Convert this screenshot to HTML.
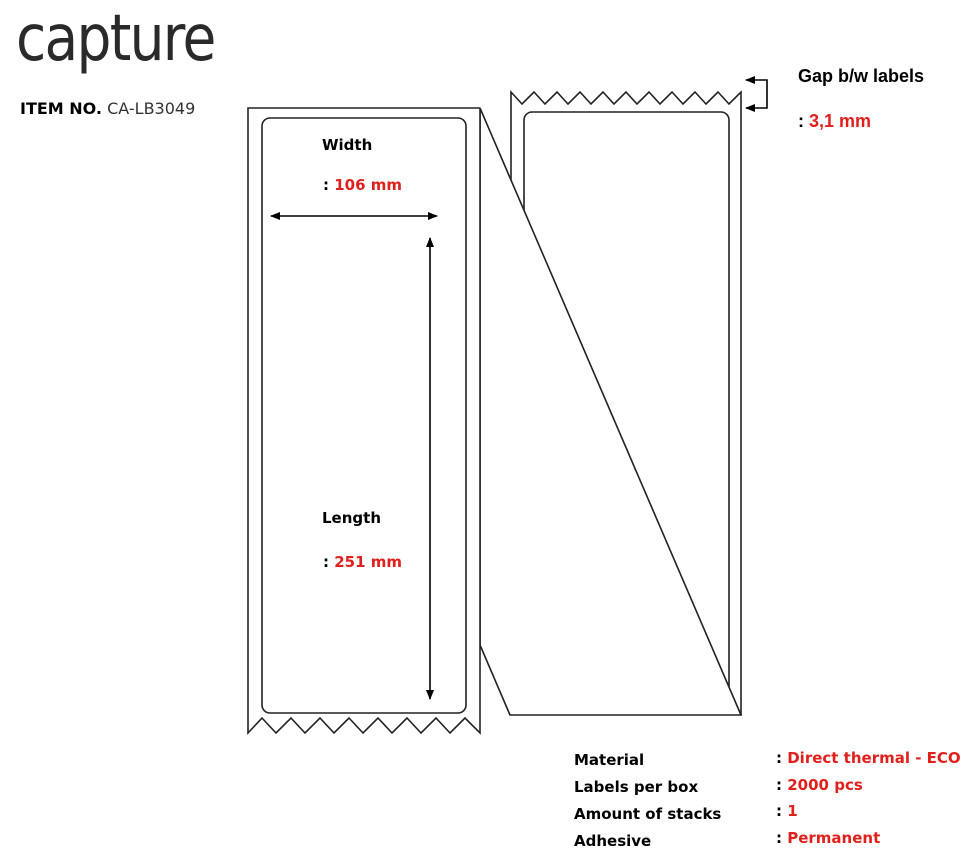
<!DOCTYPE html>
<html><head><style>
body{margin:0;background:#fff;width:969px;height:866px;overflow:hidden;position:relative;font-family:"DejaVu Sans","Liberation Sans",sans-serif}
.t{position:absolute;white-space:nowrap}
.r{color:#e0201c}
</style></head><body>
<svg width="969" height="866" style="position:absolute;left:0;top:0">
<defs><marker id="a" markerWidth="10" markerHeight="8" refX="9" refY="4" orient="auto-start-reverse" markerUnits="userSpaceOnUse"><path d="M0,0 L10,4 L0,8 Z" fill="#000"/></marker></defs>
<g fill="none" stroke="#222" stroke-width="1.6">
<path d="M511,715 L511,92 L522,104 L534,92 L545,104 L557,92 L568,104 L580,92 L591,104 L603,92 L614,104 L626,92 L637,104 L649,92 L660,104 L672,92 L683,104 L695,92 L706,104 L718,92 L729,104 L741,92 L741,715" fill="#fff"/>
<rect x="524" y="112" width="205" height="590" rx="8"/>
<path d="M480,108 L741,715 L510,715 L480,645 Z" fill="#fff"/>
<path d="M480,108 L248,108 L248,733 L262,718 L276,733 L291,718 L305,733 L320,718 L334,733 L349,718 L363,733 L378,718 L392,733 L407,718 L421,733 L436,718 L450,733 L465,718 L480,733 L480,108" fill="#fff"/>
<rect x="262" y="118" width="204" height="595" rx="8"/>
</g>
<g stroke="#000" stroke-width="1.6" fill="none">
<line x1="271" y1="216" x2="437" y2="216" marker-start="url(#a)" marker-end="url(#a)"/>
<line x1="430" y1="238" x2="430" y2="699" marker-start="url(#a)" marker-end="url(#a)"/>
<path d="M746,80 L767,80 L767,108 L746,108" marker-start="url(#a)" marker-end="url(#a)"/>
</g>
</svg>
<div class="t" style="left:16px;top:2px;font-size:64px;color:#2a2a2a;font-family:'DejaVu Sans',sans-serif;letter-spacing:-2px;transform:scaleX(0.86);transform-origin:0 0">capture</div>
<div class="t" style="left:20px;top:99px;font-size:16px"><b>ITEM NO.</b> <span style="color:#333">CA-LB3049</span></div>
<div class="t" style="left:322px;top:136px;font-size:15px;font-weight:bold">Width</div>
<div class="t" style="left:323px;top:176px;font-size:15px;font-weight:bold">: <span class="r">106 mm</span></div>
<div class="t" style="left:322px;top:509px;font-size:15px;font-weight:bold">Length</div>
<div class="t" style="left:323px;top:553px;font-size:15px;font-weight:bold">: <span class="r">251 mm</span></div>
<div class="t" style="left:798px;top:66px;font-size:18px;font-weight:bold;font-family:'Liberation Sans',sans-serif">Gap b/w labels</div>
<div class="t" style="left:798px;top:111px;font-size:18px;font-weight:bold;font-family:'Liberation Sans',sans-serif">: <span class="r">3,1 mm</span></div>
<div class="t" style="left:574px;top:747px;font-size:15px;font-weight:bold;line-height:27px">Material<br>Labels per box<br>Amount of stacks<br>Adhesive</div>
<div class="t" style="left:776px;top:745px;font-size:15px;font-weight:bold;line-height:26.5px">: <span class="r">Direct thermal - ECO</span><br>: <span class="r">2000 pcs</span><br>: <span class="r">1</span><br>: <span class="r">Permanent</span></div>
</body></html>
